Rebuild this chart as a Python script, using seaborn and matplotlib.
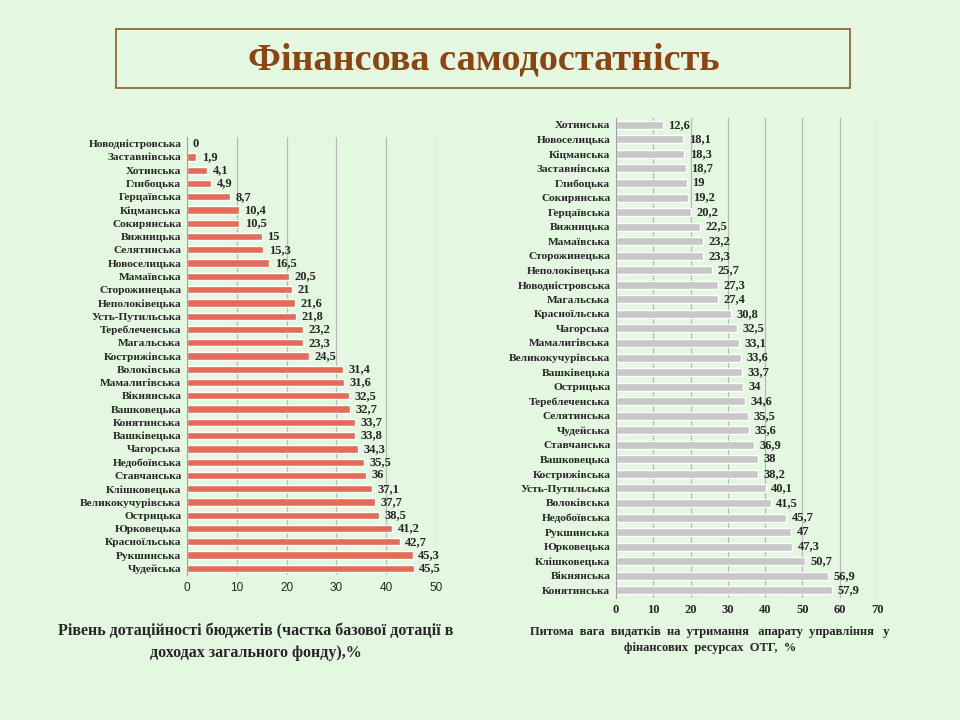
import pandas as pd
import seaborn as sns
import matplotlib.pyplot as plt
import matplotlib.ticker as ticker
from matplotlib.patches import Rectangle

# data
left_names = ["Новодністровська", "Заставнівська", "Хотинська", "Глибоцька", "Герцаївська",
              "Кіцманська", "Сокирянська", "Вижницька", "Селятинська", "Новоселицька",
              "Мамаївська", "Сторожинецька", "Неполоківецька", "Усть-Путильська",
              "Тереблеченська", "Магальська", "Кострижівська", "Волоківська", "Мамалигівська",
              "Вікнянська", "Вашковецька", "Конятинська", "Вашківецька", "Чагорська",
              "Недобоївська", "Ставчанська", "Клішковецька", "Великокучурівська", "Острицька",
              "Юрковецька", "Красноїльська", "Рукшинська", "Чудейська"]
left_values = [0, 1.9, 4.1, 4.9, 8.7, 10.4, 10.5, 15, 15.3, 16.5, 20.5, 21, 21.6, 21.8,
               23.2, 23.3, 24.5, 31.4, 31.6, 32.5, 32.7, 33.7, 33.8, 34.3, 35.5, 36,
               37.1, 37.7, 38.5, 41.2, 42.7, 45.3, 45.5]

right_names = ["Хотинська", "Новоселицька", "Кіцманська", "Заставнівська", "Глибоцька",
               "Сокирянська", "Герцаївська", "Вижницька", "Мамаївська", "Сторожинецька",
               "Неполоківецька", "Новодністровська", "Магальська", "Красноїльська", "Чагорська",
               "Мамалигівська", "Великокучурівська", "Вашківецька", "Острицька",
               "Тереблеченська", "Селятинська", "Чудейська", "Ставчанська", "Вашковецька",
               "Кострижівська", "Усть-Путильська", "Волоківська", "Недобоївська", "Рукшинська",
               "Юрковецька", "Клішковецька", "Вікнянська", "Конятинська"]
right_values = [12.6, 18.1, 18.3, 18.7, 19, 19.2, 20.2, 22.5, 23.2, 23.3, 25.7, 27.3, 27.4,
                30.8, 32.5, 33.1, 33.6, 33.7, 34, 34.6, 35.5, 35.6, 36.9, 38, 38.2, 40.1,
                41.5, 45.7, 47, 47.3, 50.7, 56.9, 57.9]

title = "Фінансова самодостатність"
left_caption = "Рівень дотаційності бюджетів (частка базової дотації в\nдоходах загального фонду),%"
right_caption = "Питома  вага  видатків  на  утримання   апарату  управління   у\nфінансових  ресурсах  ОТГ,  %"

bg = "#E4F8E1"
sns.set_style("white")
plt.rcParams["font.family"] = ["Liberation Serif", "DejaVu Serif"]

fig = plt.figure(figsize=(9.6, 7.2), dpi=100, facecolor=bg)

# title box
fig.patches.append(Rectangle((116 / 960, 1 - 88 / 720), 734 / 960, 59 / 720,
                             transform=fig.transFigure, fill=False,
                             edgecolor="#8B5A2B", linewidth=1.2))
fig.text(484 / 960, 1 - 60 / 720, title, ha="center", va="center",
         fontsize=27.5, fontweight="bold", color="#8B4513")


def draw(ax, names, values, color, xmax, tick_font):
    df = pd.DataFrame({"name": names, "value": values})
    sns.barplot(data=df, y="name", x="value", color=color, width=0.55,
                saturation=1, ax=ax, orient="h")
    ax.set_facecolor(bg)
    ax.set_xlim(0, xmax)
    ax.set_ylim(len(names) - 0.5, -0.5)
    ax.xaxis.set_major_locator(ticker.MultipleLocator(10))
    ax.grid(True, axis="x", color="#B8B8B8", linewidth=0.9)
    ax.set_axisbelow(True)
    for s in ["top", "right", "bottom"]:
        ax.spines[s].set_visible(False)
    ax.spines["left"].set_color("#A0A0A0")
    ax.set_xlabel("")
    ax.set_ylabel("")
    ax.tick_params(axis="y", length=0, pad=4)
    ax.yaxis.set_minor_locator(ticker.FixedLocator([i + 0.5 for i in range(-1, len(names))]))
    ax.tick_params(axis="y", which="minor", length=3, color="#A0A0A0")
    ax.tick_params(axis="x", length=0, pad=5)
    for lab in ax.get_yticklabels():
        lab.set_fontweight("bold")
        lab.set_fontsize(8.2)
    for lab in ax.get_xticklabels():
        lab.update(tick_font)
    labels = [str(v).replace(".", ",") if v != int(v) else str(int(v)) for v in values]
    ax.bar_label(ax.containers[0], labels=labels, padding=4,
                 fontsize=9, fontweight="bold")


ax1 = fig.add_axes([187 / 960, 1 - 575 / 720, 249 / 960, 438 / 720])
draw(ax1, left_names, left_values, "#E36B58", 50,
     {"family": ["Liberation Sans", "DejaVu Sans"], "fontsize": 8.5})

ax2 = fig.add_axes([616 / 960, 1 - 597.5 / 720, 261 / 960, 480 / 720])
draw(ax2, right_names, right_values, "#C8C8C8", 70,
     {"fontsize": 9, "fontweight": "bold"})

fig.text(256 / 960, 1 - 642 / 720, left_caption, ha="center", va="center",
         fontsize=11.5, fontweight="bold", linespacing=1.5)
fig.text(710 / 960, 1 - 640 / 720, right_caption, ha="center", va="center",
         fontsize=9, fontweight="bold", linespacing=1.4)

plt.savefig("out.png", dpi=100, facecolor=bg)
